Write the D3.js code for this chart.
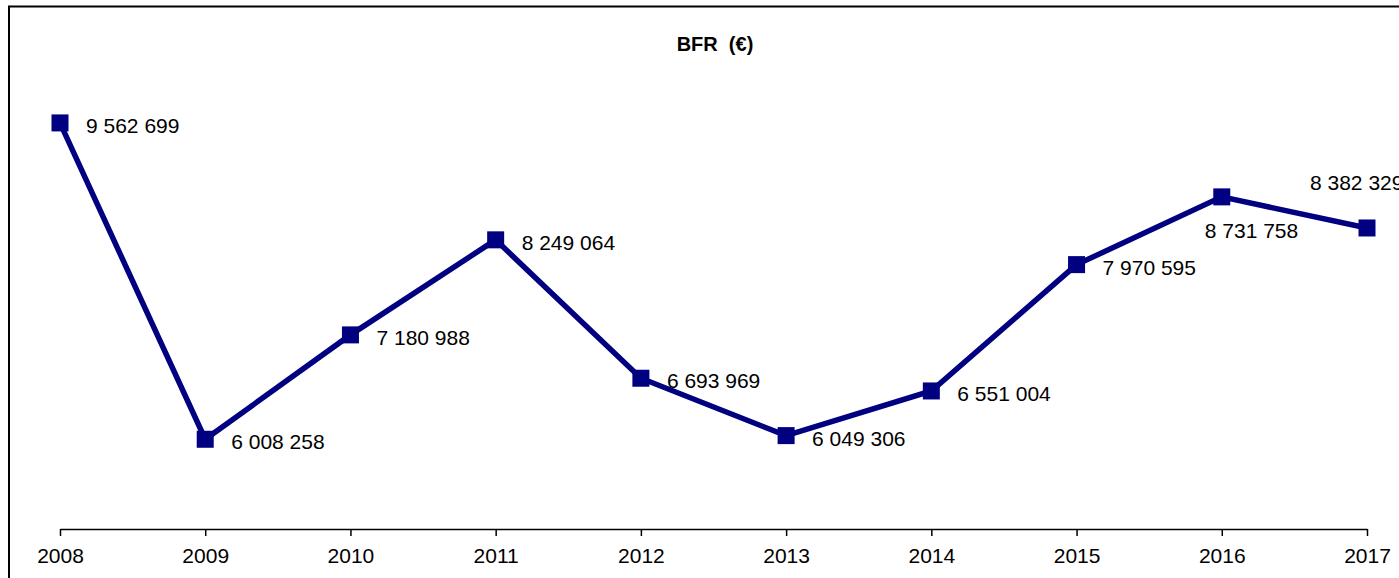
<html>
<head>
  <meta charset="utf-8">
  <script src="https://d3js.org/d3.v7.min.js"></script>
  <script>
    // BFR per year, in euros
    var years = ["2008", "2009", "2010", "2011", "2012", "2013", "2014", "2015", "2016", "2017"];
    var bfr = [9562699, 6008258, 7180988, 8249064, 6693969, 6049306, 6551004, 7970595, 8731758, 8382329];
    // where Excel put each data label relative to its marker
    var labelPlacement = ["right", "right", "right", "right", "right", "right", "right", "right", "below", "above"];

    function makeChart() {
      var svg = d3.select("#chart");
      var fmt = v => d3.format(",")(v).replace(/,/g, " ");

      var xSc = d3.scalePoint().domain(years).range([60, 1367]);
      var ySc = d3.scaleLinear().domain([5000000, 10000000]).range([529, 84]);

      // outer frame of the chart area
      svg.append("rect").attr("x", 9).attr("y", 6.5)
        .attr("width", 1420).attr("height", 620)
        .attr("fill", "white").attr("stroke", "black").attr("stroke-width", 2);

      svg.append("text").attr("x", 715).attr("y", 51)
        .attr("text-anchor", "middle")
        .style("font", "bold 20px 'Liberation Sans', Arial, sans-serif")
        .style("white-space", "pre")
        .text("BFR  (€)");

      var axis = d3.axisBottom(xSc).tickSize(7).tickSizeOuter(0).tickPadding(12);
      var gx = svg.append("g").attr("transform", "translate(0,529)").call(axis);
      gx.select(".domain").attr("stroke", "black").attr("stroke-width", 1.5);
      gx.selectAll(".tick line").attr("stroke", "black").attr("stroke-width", 1.5);
      gx.selectAll(".tick text").attr("fill", "black")
        .style("font", "21px 'Liberation Sans', Arial, sans-serif");

      var pts = years.map((y, i) => [xSc(y), ySc(bfr[i])]);

      svg.append("path").attr("d", d3.line()(pts))
        .attr("fill", "none").attr("stroke", "#000080")
        .attr("stroke-width", 5.5).attr("stroke-linejoin", "miter");

      svg.append("g").selectAll("rect").data(pts).enter()
        .append("rect")
        .attr("x", d => d[0] - 8.5).attr("y", d => d[1] - 8.5)
        .attr("width", 17).attr("height", 17)
        .attr("fill", "#000080");

      var offs = { right: [26, 10], below: [-17, 41], above: [-57, -38] };
      svg.append("g").selectAll("text").data(pts).enter()
        .append("text")
        .attr("x", (d, i) => d[0] + offs[labelPlacement[i]][0])
        .attr("y", (d, i) => d[1] + offs[labelPlacement[i]][1])
        .style("font", "21px 'Liberation Sans', Arial, sans-serif")
        .text((d, i) => fmt(bfr[i]));
    }
  </script>
  <style>
    body { margin: 0; background: white; overflow: hidden; }
  </style>
</head>

<body onload="makeChart()">
  <svg id="chart" width="1399" height="578"></svg>
</body>
</html>
